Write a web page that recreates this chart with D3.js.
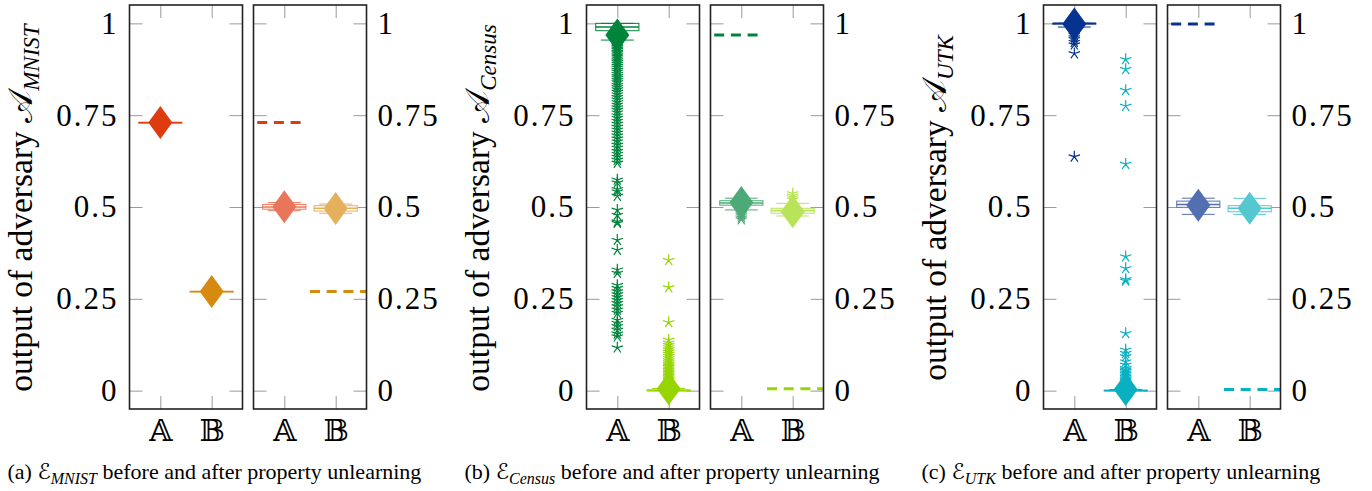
<!DOCTYPE html>
<html>
<head>
<meta charset="utf-8">
<script src="https://cdn.jsdelivr.net/npm/d3@7"></script>
<style>
  body { margin: 0; background: #fff; }
</style>
</head>
<body>
<div id="container" style="width:1372px;height:491px"></div>
<script>
// categories and ticks
const categories = ["𝔸", "𝔹"];
const yTicks = [0, 0.25, 0.5, 0.75, 1];
const datasets = ["MNIST", "Census", "UTK"];
const captionLetters = ["a", "b", "c"];

// box stats per category: [lower whisker, q1, median, q3, upper whisker]
const mnistBeforeStats = [[0.73, 0.73, 0.73, 0.73, 0.73], [0.27, 0.27, 0.27, 0.27, 0.27]];
const mnistAfterStats = [[0.49, 0.494, 0.50, 0.507, 0.512], [0.483, 0.489, 0.4965, 0.5035, 0.508]];
const censusBeforeStats = [[0.9545, 0.98, 0.99, 1.0, 1.0], [0, 0, 0, 0.002, 0.006]];
const censusAfterStats = [[0.492, 0.505, 0.511, 0.517, 0.524], [0.4755, 0.483, 0.49, 0.4965, 0.51]];
const utkBeforeStats = [[0.99, 0.998, 1.0, 1.0, 1.0], [0, 0, 0, 0.001, 0.003]];
const utkAfterStats = [[0.48, 0.499, 0.507, 0.516, 0.524], [0.48, 0.487, 0.4965, 0.5035, 0.5236]];

// means (diamonds)
const mnistBeforeMeans = [0.73, 0.27];
const mnistAfterMeans = [0.501, 0.496];
const censusBeforeMeans = [0.968, 0.005];
const censusAfterMeans = [0.512, 0.487];
const utkBeforeMeans = [0.998, 0.003];
const utkAfterMeans = [0.505, 0.4965];

// outliers
const mnistBeforeOutliers = [[], []];
const mnistAfterOutliers = [[], []];
const censusBeforeOutliers = [
  [0.955, 0.951, 0.947, 0.943, 0.939, 0.935, 0.931, 0.927, 0.922, 0.918, 0.913, 0.909, 0.904, 0.899,
   0.894, 0.889, 0.884, 0.879, 0.873, 0.868, 0.862, 0.856, 0.851, 0.845, 0.839, 0.832, 0.826, 0.82,
   0.813, 0.806, 0.799, 0.792, 0.785, 0.778, 0.771, 0.764, 0.757, 0.749, 0.742, 0.734, 0.726, 0.718,
   0.71, 0.702, 0.694, 0.686, 0.678, 0.669, 0.661, 0.652, 0.644, 0.636, 0.628, 0.62,
   0.574, 0.566, 0.548, 0.542, 0.53, 0.492, 0.478, 0.46, 0.456, 0.41, 0.383, 0.329, 0.32,
   0.287, 0.279, 0.27, 0.262, 0.254, 0.246, 0.238, 0.229, 0.22, 0.211,
   0.192, 0.184, 0.175, 0.165, 0.155, 0.147, 0.117],
  [0.355, 0.281, 0.186, 0.138, 0.13, 0.124, 0.118, 0.112, 0.106, 0.1, 0.094, 0.088, 0.082, 0.077,
   0.072, 0.068, 0.064, 0.06, 0.056, 0.052, 0.048, 0.044, 0.04, 0.036, 0.032, 0.028, 0.024, 0.02,
   0.016, 0.012, 0.008]
];
const censusAfterOutliers = [[0.488, 0.482, 0.477, 0.471, 0.466], [0.537, 0.531, 0.526, 0.52]];
const utkBeforeOutliers = [
  [0.975, 0.968, 0.962, 0.957, 0.949, 0.942, 0.918, 0.637],
  [0.902, 0.875, 0.818, 0.775, 0.617, 0.365, 0.333, 0.303, 0.299, 0.156, 0.111, 0.102, 0.093,
   0.079, 0.07, 0.061, 0.057, 0.053, 0.049, 0.045, 0.041, 0.037, 0.033, 0.029, 0.025, 0.021,
   0.017, 0.013, 0.009]
];
const utkAfterOutliers = [[], []];

// colours: before A, before B, after A, after B
const mnistColors = ["#de3b10", "#d58a10", "#e9765b", "#e4b05c"];
const censusColors = ["#00843c", "#96d500", "#4daa78", "#b9e45a"];
const utkColors = ["#06338f", "#09b0c2", "#5270b0", "#55c7d0"];

const beforeStats = [mnistBeforeStats, censusBeforeStats, utkBeforeStats];
const afterStats = [mnistAfterStats, censusAfterStats, utkAfterStats];
const beforeMeans = [mnistBeforeMeans, censusBeforeMeans, utkBeforeMeans];
const afterMeans = [mnistAfterMeans, censusAfterMeans, utkAfterMeans];
const beforeOutliers = [mnistBeforeOutliers, censusBeforeOutliers, utkBeforeOutliers];
const afterOutliers = [mnistAfterOutliers, censusAfterOutliers, utkAfterOutliers];
const panelColors = [mnistColors, censusColors, utkColors];

const width = 1372, height = 491;
const plotW = 113, plotTop = 5, plotBottom = 409;
const panelLeft = [129.5, 586.5, 1043.5];
const subOffset = 124;
const boxExtent = 0.84, whiskerExtent = 0.64;
const diamondH = 33, diamondW = 24, starR = 6;
const serif = "Liberation Serif, DejaVu Serif, serif";
const mathFont = "DejaVu Serif, DejaVu Sans, serif";

const svg = d3.select("#container")
    .append("svg")
    .attr("width", width)
    .attr("height", height);

const x = d3.scaleLinear().domain([0.4, 2.6]).range([0, plotW]);
const y = d3.scaleLinear().domain([-0.05, 1.05]).range([plotBottom, plotTop]);

const starPath = d3.range(5).map(i => {
    const a = Math.PI / 2 + i * 2 * Math.PI / 5;
    return `M0,0L${(starR * Math.cos(a)).toFixed(2)},${(-starR * Math.sin(a)).toFixed(2)}`;
}).join("");
const diamondPath = `M0,${-diamondH / 2}L${diamondW / 2},0L0,${diamondH / 2}L${-diamondW / 2},0Z`;

function styleAxis(g, showLabels) {
    g.attr("font-family", serif).attr("font-size", 31);
    g.select(".domain").remove();
    g.selectAll(".tick line").attr("stroke", "#9a9a9a").attr("stroke-width", 1);
    g.selectAll(".tick text").attr("fill", "#000").attr("letter-spacing", 2);
    if (!showLabels) g.selectAll(".tick text").remove();
}

function drawSub(left, stats, means, outliers, colors, labelsLeft, dashMeans, dashColors) {
    const g = svg.append("g").attr("transform", `translate(${left},0)`);

    g.append("g").call(d3.axisLeft(y).tickValues(yTicks).tickSize(-13).tickPadding(11)
        .tickFormat(d3.format("~g"))).call(a => styleAxis(a, labelsLeft));
    g.append("g").attr("transform", `translate(${plotW},0)`)
        .call(d3.axisRight(y).tickValues(yTicks).tickSize(-13).tickPadding(11)
        .tickFormat(d3.format("~g"))).call(a => styleAxis(a, !labelsLeft));
    g.append("g").attr("transform", `translate(0,${plotBottom})`)
        .call(d3.axisBottom(x).tickValues([1, 2]).tickSize(-13).tickPadding(11)
        .tickFormat((d, i) => categories[i]))
        .call(a => {
            styleAxis(a, true);
            a.attr("font-family", mathFont).attr("font-size", 30);
            a.selectAll(".tick text").attr("letter-spacing", null);
        });
    g.append("g").attr("transform", `translate(0,${plotTop})`)
        .call(d3.axisTop(x).tickValues([1, 2]).tickSize(-13)).call(a => styleAxis(a, false));

    // dashed lines of previous means
    if (dashMeans) {
        const spans = [[0.4, 1.43], [1.5, 2.6]];
        g.selectAll("line.dash").data(dashMeans).join("line")
            .attr("x1", (d, i) => x(spans[i][0]))
            .attr("x2", (d, i) => x(spans[i][1]))
            .attr("y1", d => y(d)).attr("y2", d => y(d))
            .attr("stroke", (d, i) => dashColors[i])
            .attr("stroke-width", 3)
            .attr("stroke-dasharray", "10,6.7")
            .attr("stroke-dashoffset", (d, i) => i === 0 ? 13 : 0);
    }

    stats.forEach((s, i) => {
        const cx = x(i + 1);
        const c = colors[i];
        const bw = x(boxExtent) - x(0), ww = x(whiskerExtent) - x(0);
        const bg = g.append("g").attr("fill", "none").attr("stroke", c).attr("stroke-width", 1);
        bg.append("line").attr("x1", cx).attr("x2", cx).attr("y1", y(s[0])).attr("y2", y(s[4]));
        bg.append("rect").attr("x", cx - bw / 2).attr("width", bw)
            .attr("y", y(s[3])).attr("height", Math.max(0.5, y(s[1]) - y(s[3])))
            .attr("fill", "#fff");
        bg.append("line").attr("x1", cx - bw / 2).attr("x2", cx + bw / 2)
            .attr("y1", y(s[2])).attr("y2", y(s[2])).attr("stroke-width", 1.6);
        [s[0], s[4]].forEach(w => {
            bg.append("line").attr("x1", cx - ww / 2).attr("x2", cx + ww / 2)
                .attr("y1", y(w)).attr("y2", y(w));
        });

        g.selectAll(null).data(outliers[i]).join("path")
            .attr("d", starPath)
            .attr("transform", d => `translate(${cx},${y(d)})`)
            .attr("fill", "none")
            .attr("stroke", c)
            .attr("stroke-width", 1.2);

        g.append("path").attr("d", diamondPath)
            .attr("transform", `translate(${cx},${y(means[i])})`)
            .attr("fill", c);
    });

    g.append("rect").attr("x", 0).attr("y", plotTop).attr("width", plotW)
        .attr("height", plotBottom - plotTop)
        .attr("fill", "none").attr("stroke", "#222").attr("stroke-width", 1.6);
}

datasets.forEach((name, p) => {
    const left = panelLeft[p];
    const cols = panelColors[p];
    drawSub(left, beforeStats[p], beforeMeans[p], beforeOutliers[p], cols.slice(0, 2), true, null, null);
    drawSub(left + subOffset, afterStats[p], afterMeans[p], afterOutliers[p], cols.slice(2, 4), false,
        beforeMeans[p], cols.slice(0, 2));

    const lab = svg.append("text")
        .attr("transform", `translate(${left - 98},${(plotTop + plotBottom) / 2 + 1}) rotate(-90)`)
        .attr("text-anchor", "middle")
        .attr("font-family", serif)
        .attr("font-size", 33.5);
    lab.append("tspan").text("output of adversary ");
    lab.append("tspan").attr("font-family", mathFont).text("𝒜");
    lab.append("tspan").attr("dy", 7).attr("font-size", 23).attr("font-style", "italic").text(name);

    const cap = svg.append("text")
        .attr("x", left - 122).attr("y", 479)
        .attr("font-family", serif)
        .attr("font-size", 22);
    cap.append("tspan").text(`(${captionLetters[p]}) `);
    cap.append("tspan").attr("font-family", mathFont).text("ℰ");
    cap.append("tspan").attr("dy", 5).attr("font-size", 16).attr("font-style", "italic").text(name);
    cap.append("tspan").attr("dy", -5).text(" before and after property unlearning");
});
</script>
</body>
</html>
